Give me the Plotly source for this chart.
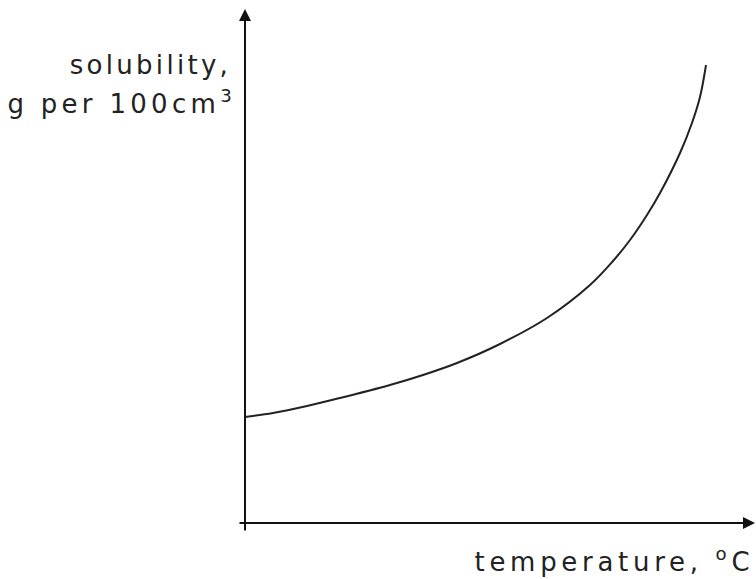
import plotly.graph_objects as go

# Data (arbitrary units: temperature on x, solubility on y)
temperature = [0, 6.09, 13.48, 20.65, 31.52, 38.70, 46.09, 55.43, 65.65, 75.0,
               80.0, 83.70, 87.39, 90.22, 94.57, 97.17, 98.91, 100.22]
solubility = [23.14, 24.02, 25.55, 27.29, 30.13, 32.31, 34.93, 39.08, 44.76, 51.97,
              57.21, 61.79, 67.25, 72.05, 80.79, 87.34, 93.01, 100.0]

x_label = "temperature, <sup>o</sup>C"
y_label_1 = "solubility,"
y_label_2 = "g per 100cm<sup>3</sup>"

W, H = 756, 579
ML, MR, MT, MB = 238, 0, 9, 47
x_range = [-1.5217, 111.087]
y_range = [-1.965, 112.227]
x_axis_end = 110.87

FONT = dict(family="DejaVu Sans", size=26, color="#222")

fig = go.Figure()
fig.add_trace(go.Scatter(
    x=temperature, y=solubility, mode="lines",
    line=dict(color="#222", width=2, shape="spline", smoothing=1.0),
    hoverinfo="skip", showlegend=False, cliponaxis=False,
))

annotations = [
    # y axis with arrow
    dict(x=0, y=y_range[1], ax=0, ay=y_range[0], xref="x", yref="y", axref="x", ayref="y",
         text="", showarrow=True, arrowhead=2, arrowsize=1.2, arrowwidth=2, arrowcolor="#111",
         standoff=0, startstandoff=0),
    # x axis with arrow
    dict(x=x_axis_end, y=0, ax=x_range[0], ay=0, xref="x", yref="y", axref="x", ayref="y",
         text="", showarrow=True, arrowhead=2, arrowsize=1.2, arrowwidth=2, arrowcolor="#111",
         standoff=0, startstandoff=0),
]


def px_to_paper_x(px):
    return (px - ML) / (W - ML - MR)


def px_to_paper_y(py):
    return (H - MB - py) / (H - MT - MB)


annotations += [
    dict(text=y_label_1, xref="paper", yref="paper", x=px_to_paper_x(233), y=px_to_paper_y(65),
         xanchor="right", yanchor="middle", align="right", showarrow=False, font=FONT),
    dict(text=y_label_2, xref="paper", yref="paper", x=px_to_paper_x(238), y=px_to_paper_y(102),
         xanchor="right", yanchor="middle", align="right", showarrow=False, font=FONT),
    dict(text=x_label, xref="paper", yref="paper", x=px_to_paper_x(756), y=px_to_paper_y(560),
         xanchor="right", yanchor="middle", align="right", showarrow=False, font=FONT),
]

fig.update_layout(
    width=W, height=H,
    margin=dict(l=ML, r=MR, t=MT, b=MB, pad=0),
    paper_bgcolor="white", plot_bgcolor="white",
    xaxis=dict(range=x_range, visible=False, fixedrange=True),
    yaxis=dict(range=y_range, visible=False, fixedrange=True),
    annotations=annotations,
    showlegend=False,
)

post = (
    "document.body.style.margin='0';"
    "var sp={2:'3.3px',3:'4.3px',4:'4.7px'};"
    "Object.keys(sp).forEach(function(i){"
    "document.querySelectorAll('.annotation[data-index=\"'+i+'\"] .annotation-text')"
    ".forEach(function(t){t.style.letterSpacing=sp[i];});});"
)

fig.write_html("out.html", config={"displayModeBar": False}, post_script=post)
